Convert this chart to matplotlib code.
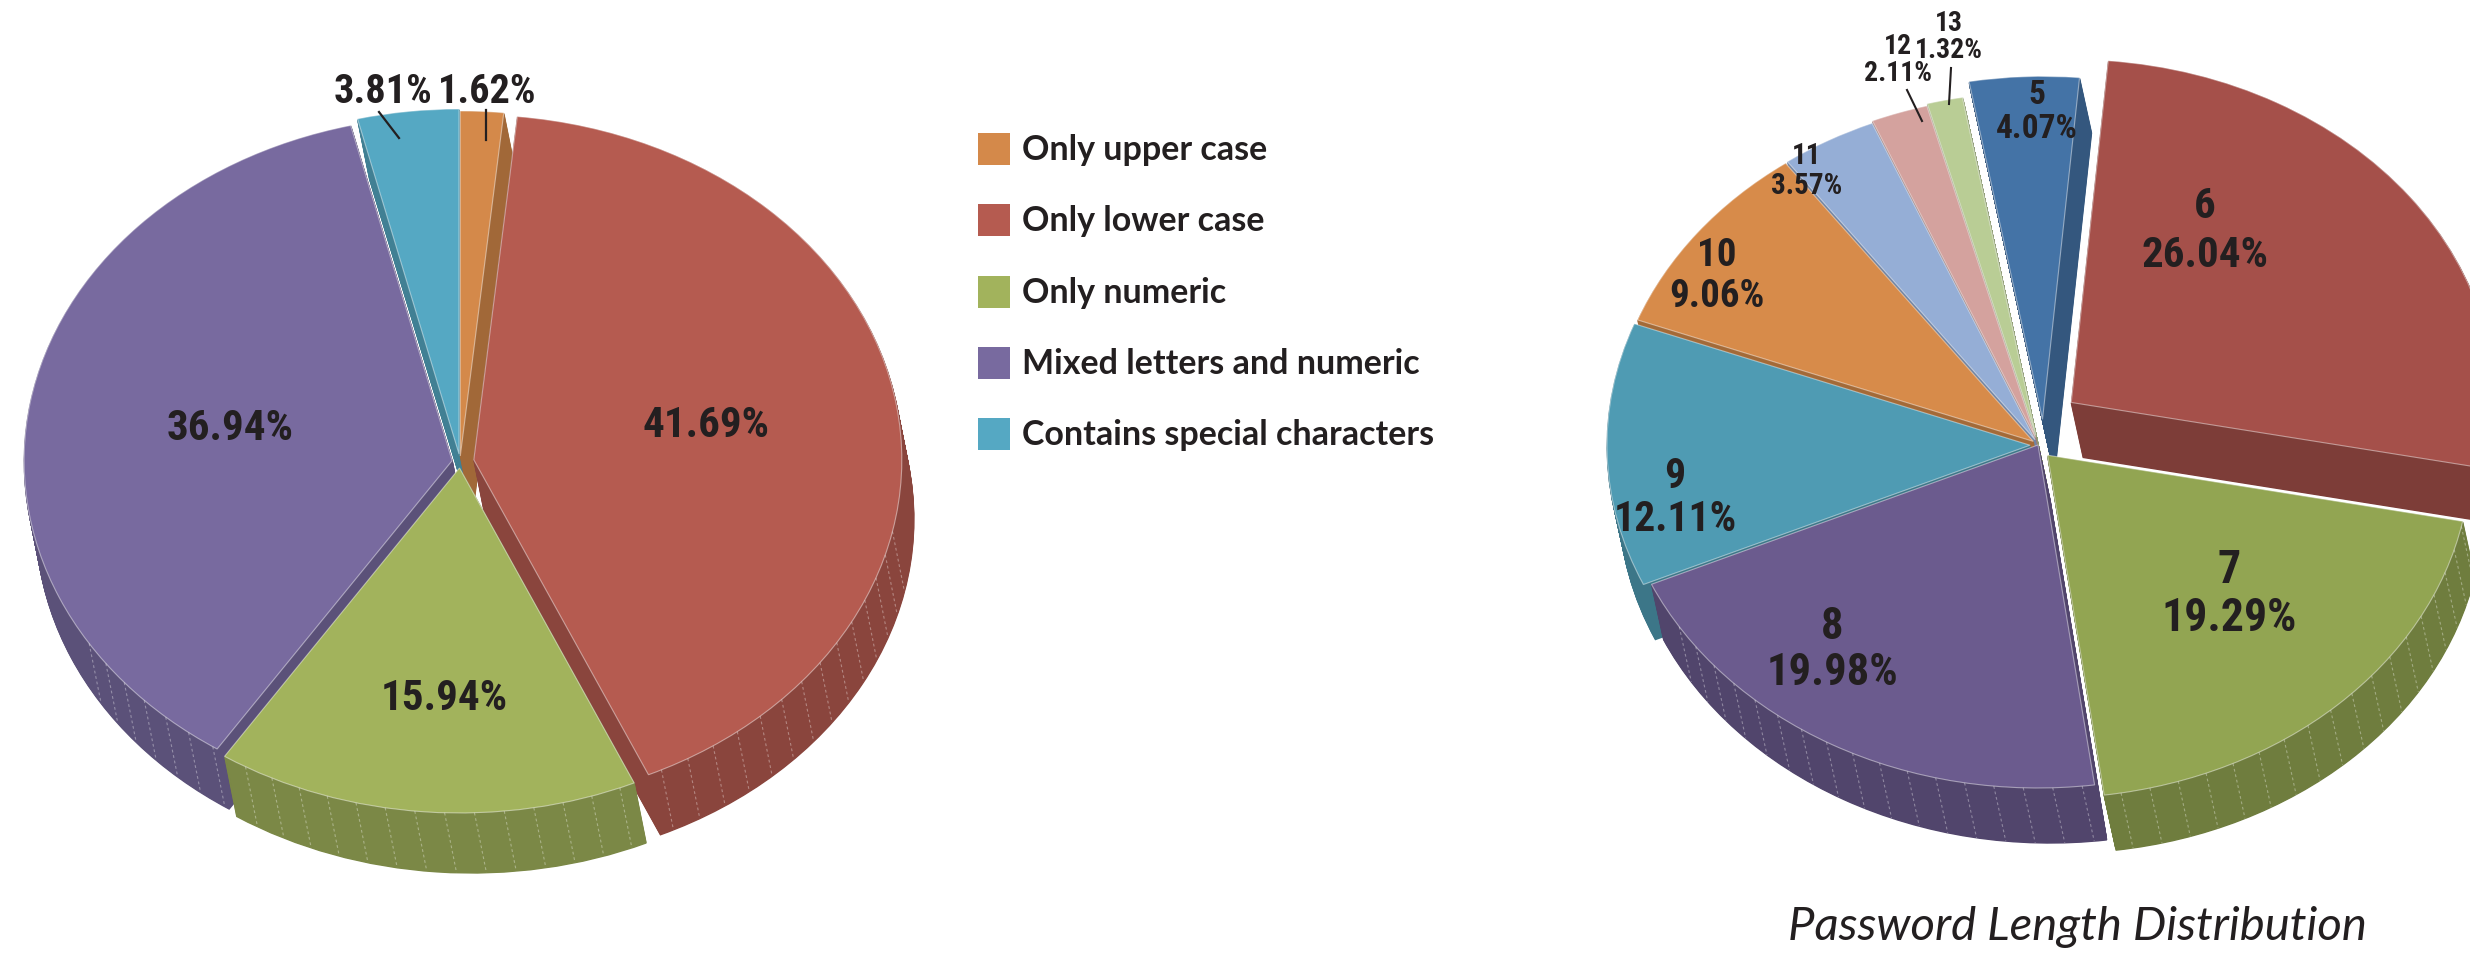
import numpy as np
import matplotlib
matplotlib.use("Agg")
import matplotlib.pyplot as plt
from matplotlib.patches import Wedge, Rectangle
from matplotlib.transforms import Affine2D
from matplotlib import font_manager
from matplotlib.colors import to_rgb

# ---- data -------------------------------------------------------------
comp_labels = ["Only upper case", "Only lower case", "Only numeric",
               "Mixed letters and numeric", "Contains special characters"]
comp_values = [1.62, 41.69, 15.94, 36.94, 3.81]
comp_colors = ["#D4894A", "#B55B50", "#A2B35C", "#786A9F", "#55A8C3"]

len_labels = ["5", "6", "7", "8", "9", "10", "11", "12", "13"]
len_values = [4.07, 26.04, 19.29, 19.98, 12.11, 9.06, 3.57, 2.11, 1.32]
len_colors = ["#4473A6", "#A5504A", "#92A552", "#6B5B8E", "#4F9BB3",
              "#D78B4A", "#95AED6", "#D4A29E", "#B9CD95"]

title_text = "Password Length Distribution"

# ---- fonts ------------------------------------------------------------
avail = {f.name for f in font_manager.fontManager.ttflist}


def pick(*names):
    for n in names:
        if n in avail:
            return n
    return "DejaVu Sans"


label_font = pick("Roboto Condensed", "Liberation Sans Narrow", "Roboto", "Lato")
legend_font = pick("Lato", "Open Sans", "Noto Sans")
title_font = pick("Lato", "Open Sans", "Noto Sans")
TXT = "#231F20"

W, H = 2470, 955
fig = plt.figure(figsize=(W / 100, H / 100), dpi=100)
ax = fig.add_axes([0, 0, 1, 1])
ax.set_xlim(0, W)
ax.set_ylim(H, 0)
ax.axis("off")


def shade(c, f):
    r, g, b = to_rgb(c)
    return (r * f, g * f, b * f)


def pie3d(values, colors, center, radii, start, explode, depth,
          explode_dir=None, side=0.76):
    """Extruded elliptical pie, clockwise from `start` degrees."""
    vals = np.asarray(values, float)
    spans = 360.0 * vals / vals.sum()
    t_hi = start - np.concatenate([[0.0], np.cumsum(spans)[:-1]])
    t_lo = t_hi - spans
    mids = 0.5 * (t_hi + t_lo)
    if explode_dir is None:
        explode_dir = [None] * len(vals)
    dirs = [m if d is None else d for m, d in zip(mids, explode_dir)]
    cx, cy = center
    rx, ry = radii
    dx, dy = depth
    offs = [(e * np.cos(np.radians(a)), -e * np.sin(np.radians(a)))
            for e, a in zip(explode, dirs)]
    n = int(max(abs(dx), abs(dy)))

    def make(i, k, fc, ec, lw):
        ox, oy = offs[i]
        tr = (Affine2D().scale(rx, -ry)
              .translate(cx + ox + dx * k / n, cy + oy + dy * k / n)
              + ax.transData)
        w = Wedge((0, 0), 1.0, t_lo[i], t_hi[i], transform=tr,
                  facecolor=fc, edgecolor=ec, linewidth=lw)
        ax.add_patch(w)

    # side walls, painted from the bottom layer upwards
    for k in range(n, 0, -1):
        for i in range(len(vals)):
            sc = shade(colors[i], side)
            make(i, k, sc, sc, 1.0)

    # faint seams on the visible part of the rim
    for i in range(len(vals)):
        ox, oy = offs[i]
        for t in np.arange(np.ceil(t_lo[i] / 4) * 4, t_hi[i], 4.0):
            r = np.radians(t)
            vis = dx * np.cos(r) / rx - dy * np.sin(r) / ry
            if vis < 0.06:
                continue
            x0 = cx + ox + rx * np.cos(r)
            y0 = cy + oy - ry * np.sin(r)
            ax.plot([x0, x0 + dx], [y0, y0 + dy], color=(1, 1, 1, 0.35),
                    lw=0.8, dashes=(2.5, 2.5))

    # top faces
    for i in range(len(vals)):
        make(i, 0, colors[i], (1, 1, 1, 0.45), 0.8)
    return t_lo, t_hi, offs


# ---- left pie: password composition ----------------------------------
pie3d(comp_values, comp_colors, center=(460, 462), radii=(428, 345),
      start=90, explode=[6, 14, 6, 8, 8], depth=(12, 60))

comp_text_pos = [(487, 92), (706, 425), (444, 698), (230, 428), (383, 92)]
comp_text_size = [29, 31, 31, 31, 29]
for v, (x, y), s in zip(comp_values, comp_text_pos, comp_text_size):
    ax.text(x, y, f"{v:.2f}%", ha="center", va="center", fontsize=s,
            fontweight="bold", family=label_font, color=TXT)
# leaders for the two thin slices
ax.plot([486, 486], [110, 140], color=TXT, lw=1.6)
ax.plot([379, 399], [112, 138], color=TXT, lw=1.6)

# legend
for i, (lab, col) in enumerate(zip(comp_labels, comp_colors)):
    yc = 149 + i * 71.3
    ax.add_patch(Rectangle((978, yc - 16), 32, 32, facecolor=col,
                           edgecolor="none"))
    ax.text(1022, yc + 1, lab, ha="left", va="center", fontsize=24.5,
            fontweight="bold", family=legend_font, color=TXT)

# ---- right pie: password length --------------------------------------
pie3d(len_values, len_colors, center=(2038, 445), radii=(423, 343),
      start=100, explode=[26, 54, 14, 0, 8, 6, 6, 8, 10], depth=(12, 55),
      explode_dir=[80, 52, None, None, None, None, None, None, None])

len_text_pos = [(2037, 112), (2205, 231), (2229, 594), (1832, 650),
                (1675, 498), (1717, 276), (1807, 171), (1898, 60), (1949, 37)]
len_text_size = [24, 31, 33, 32, 30, 28, 21, 20, 20]
len_line_gap = [1.45, 1.6, 1.45, 1.45, 1.45, 1.45, 1.45, 1.35, 1.35]
for lab, v, (x, y), s, g in zip(len_labels, len_values, len_text_pos,
                                len_text_size, len_line_gap):
    half = 0.5 * g * s
    ax.text(x, y - half, lab, ha="center", va="center", fontsize=s,
            fontweight="bold", family=label_font, color=TXT)
    ax.text(x, y + half, f"{v:.2f}%", ha="center", va="center", fontsize=s,
            fontweight="bold", family=label_font, color=TXT)
ax.plot([1907, 1922], [90, 121], color=TXT, lw=1.5)
ax.plot([1951, 1949], [68, 104], color=TXT, lw=1.5)

ax.text(2077, 927, title_text, ha="center", va="center", fontsize=34,
        fontstyle="italic", family=title_font, color=TXT)

fig.savefig("out.png", dpi=100, facecolor="white")
